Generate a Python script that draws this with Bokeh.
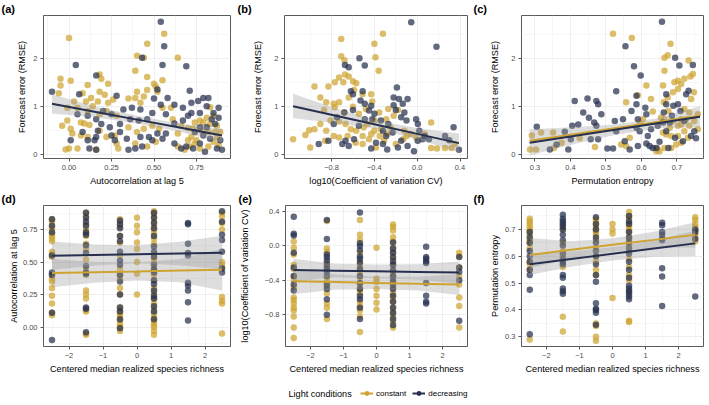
from bokeh.plotting import figure
from bokeh.layouts import column, row
from bokeh.models import Range1d, FixedTicker, Legend, LegendItem, Label
from bokeh.embed import file_html
from bokeh.resources import INLINE

GOLD = "#CFA331"
NAVY = "#27304F"
FONT = "Liberation Sans"

# ---------------- ticks ----------------
ticks_rmse = [0, 1, 2]
labels_rmse = ["0", "1", "2"]
minor_rmse = [0.5, 1.5, 2.5]
ticks_ac = [0, 0.25, 0.5, 0.75]
labels_ac = ["0.00", "0.25", "0.50", "0.75"]
minor_ac = [-0.125, 0.125, 0.375, 0.625, 0.875]
ticks_cv = [-0.8, -0.4, 0.0, 0.4]
labels_cv = ["\u22120.8", "\u22120.4", "0.0", "0.4"]
minor_cv = [-1.0, -0.6, -0.2, 0.2]
ticks_pe = [0.3, 0.4, 0.5, 0.6, 0.7]
labels_pe = ["0.3", "0.4", "0.5", "0.6", "0.7"]
minor_pe = [0.25, 0.35, 0.45, 0.55, 0.65, 0.75]
ticks_rich = [-2, -1, 0, 1, 2]
labels_rich = ["\u22122", "\u22121", "0", "1", "2"]
minor_rich = [-2.5, -1.5, -0.5, 0.5, 1.5, 2.5]

# ---------------- panel (a): autocorrelation vs RMSE ----------------
a_constant = [(0.00,2.42),(0.56,2.51),(0.46,2.30),(0.64,2.01),(0.40,2.05),(0.44,2.01),(0.39,1.74),(0.46,1.61),(0.55,1.54),(0.50,1.47),(0.51,1.41),(0.46,1.34),(0.52,1.30),(0.40,1.30),(-0.05,1.57),(0.01,1.53),(-0.05,1.43),(0.18,1.66),(0.19,1.57),(0.23,1.47),(0.11,1.44),(0.08,1.27),(-0.06,1.27),(0.18,1.30),(0.13,1.17),(0.10,1.10),(0.21,1.24),(0.26,1.14),(0.23,1.07),(0.17,1.10),(0.14,1.00),(0.03,1.10),(-0.01,0.97),(0.05,0.97),(0.11,0.90),(0.18,0.83),(0.22,0.90),(0.28,0.80),(-0.01,0.70),(0.07,0.66),(0.09,0.64),(0.12,0.61),(-0.04,0.59),(0.01,0.53),(0.02,0.43),(0.07,0.39),(0.11,0.36),(0.00,0.12),(-0.02,0.10),(0.05,0.12),(0.16,0.10),(0.18,0.49),(0.22,0.36),(0.27,0.39),(0.28,0.22),(0.29,0.12),(0.35,0.56),(0.35,1.16),(0.39,1.17),(0.44,1.20),(0.42,1.07),(0.55,0.97),(0.60,0.97),(0.49,0.59),(0.53,0.53),(0.44,0.53),(0.39,0.22),(0.46,0.16),(0.40,0.46),(0.51,0.26),(0.61,0.73),(0.66,0.59),(0.64,0.43),(0.70,0.29),(0.72,0.36),(0.75,0.29),(0.73,0.53),(0.78,0.49),(0.82,0.46),(0.86,0.46),(0.89,0.46),(0.87,0.36),(0.85,0.26),(0.88,0.19),(0.82,0.16),(0.77,0.12),(0.74,0.22),(0.71,0.16),(0.68,0.09),(0.64,0.16),(0.79,0.66),(0.83,0.63),(0.87,0.59),(0.85,0.80),(0.81,0.76),(0.77,0.70),(0.74,0.66),(0.70,0.54),(0.83,0.98)]
a_decreasing = [(-0.10,1.30),(0.04,1.86),(0.06,1.25),(0.16,1.64),(0.54,2.76),(0.56,2.25),(0.55,1.86),(0.43,2.01),(0.69,1.83),(0.71,1.32),(0.28,1.22),(0.52,1.35),(0.50,1.16),(0.54,1.03),(0.62,1.03),(0.67,0.97),(0.76,1.11),(0.79,1.17),(0.82,1.17),(0.88,0.97),(0.81,1.00),(0.85,0.86),(0.77,0.86),(0.72,0.86),(0.84,0.73),(0.88,0.76),(0.86,0.63),(0.81,0.56),(0.77,0.56),(0.74,0.46),(0.79,0.39),(0.83,0.32),(0.89,0.29),(0.90,0.09),(0.87,0.12),(0.80,0.05),(0.77,0.22),(0.73,0.12),(0.69,0.16),(0.66,0.12),(0.62,0.22),(0.57,0.43),(0.55,0.32),(0.52,0.43),(0.49,0.29),(0.47,0.36),(0.42,0.36),(0.43,0.16),(0.39,0.12),(0.35,0.09),(0.34,0.32),(0.30,0.46),(0.27,0.29),(0.32,0.93),(0.37,0.97),(0.42,0.93),(0.46,0.73),(0.41,0.70),(0.36,0.73),(0.30,0.63),(0.24,0.56),(0.19,0.63),(0.17,0.49),(0.16,0.36),(0.15,0.29),(0.11,0.29),(0.08,0.46),(0.01,0.29),(0.05,0.83),(0.11,0.80),(0.16,0.73),(0.20,0.90),(0.25,0.83),(0.12,0.12),(0.16,0.09),(0.25,0.39),(0.62,0.64),(0.67,0.70),(0.70,0.80),(0.72,1.07),(0.58,1.17),(0.49,0.86),(0.57,0.83)]
a_fit_x = [-0.10, 0.15, 0.40, 0.65, 0.90]
a_fit_y = [1.05, 0.885, 0.72, 0.555, 0.39]
a_fit_lo = [0.85, 0.77, 0.64, 0.47, 0.25]
a_fit_hi = [1.25, 1.00, 0.80, 0.64, 0.53]

# ---------------- panel (b): log10 CV vs RMSE ----------------
b_constant = [(-1.16,0.31),(-1.045,0.40),(-1.00,0.14),(-0.96,0.52),(-1.01,0.50),(-0.96,1.41),(-0.83,1.41),(-0.77,1.50),(-0.71,2.40),(-0.71,2.04),(-0.68,1.96),(-0.64,1.62),(-0.675,1.66),(-0.69,1.50),(-0.73,1.60),(-0.60,1.52),(-0.57,1.48),(-0.59,1.34),(-0.51,1.25),(-0.43,1.25),(-0.42,1.10),(-0.32,2.51),(-0.40,2.30),(-0.39,2.02),(-0.36,1.74),(-0.78,1.05),(-0.77,0.98),(-0.85,1.08),(-0.905,1.18),(-0.87,0.92),(-0.73,1.08),(-0.64,1.18),(-0.685,0.87),(-0.60,0.99),(-0.545,0.84),(-0.81,0.70),(-0.73,0.68),(-0.67,0.63),(-0.905,0.63),(-0.85,0.49),(-0.86,0.28),(-0.78,0.38),(-0.73,0.35),(-0.65,0.38),(-0.57,0.49),(-0.50,0.56),(-0.575,0.24),(-0.51,0.21),(-0.45,0.31),(-0.465,0.63),(-0.40,0.70),(-0.355,0.87),(-0.34,0.52),(-0.43,0.42),(-0.385,0.14),(-0.31,0.28),(-0.28,0.42),(-0.25,0.56),(-0.29,0.73),(-0.22,0.80),(-0.18,0.92),(-0.27,0.94),(-0.20,0.21),(-0.13,0.31),(-0.06,0.42),(-0.01,0.35),(0.13,0.66),(0.07,0.42),(0.13,0.13),(0.185,0.12),(0.26,0.13),(0.32,0.13),(0.35,0.21),(-0.12,0.49),(-0.10,0.38),(-0.35,0.38),(-0.40,0.49),(-0.51,0.38),(-0.62,0.52),(-0.48,0.94)]
b_decreasing = [(-0.056,2.75),(0.18,2.24),(-0.54,2.00),(-0.49,1.85),(-0.675,1.86),(-0.64,1.81),(-0.62,1.31),(-0.60,1.25),(-0.51,1.31),(-0.53,1.12),(-0.19,1.39),(-0.22,1.18),(-0.17,1.15),(-0.135,1.05),(-0.22,1.02),(-0.20,0.92),(-0.09,1.15),(-0.12,0.87),(-0.10,0.70),(-0.15,0.77),(-0.01,0.73),(0.006,0.63),(0.02,0.49),(0.05,0.31),(0.005,0.28),(-0.03,0.06),(-0.09,0.17),(-0.15,0.28),(-0.18,0.14),(-0.28,0.10),(-0.32,0.21),(-0.43,0.12),(-0.385,0.24),(-0.29,0.38),(-0.32,0.49),(-0.27,0.63),(-0.23,0.45),(-0.34,0.70),(-0.42,0.73),(-0.40,0.84),(-0.45,0.91),(-0.43,1.01),(-0.49,1.05),(-0.60,0.92),(-0.68,0.87),(-0.75,0.77),(-0.78,0.63),(-0.83,0.28),(-0.92,0.21),(-0.70,0.21),(-0.64,0.17),(-0.59,0.31),(-0.545,0.59),(-0.49,0.73),(-0.67,0.28),(0.11,0.31),(0.26,0.38),(0.34,0.56),(0.39,0.09),(0.30,0.29),(0.07,0.38)]
b_fit_x = [-1.16, -0.77, -0.38, 0.01, 0.39]
b_fit_y = [1.00, 0.806, 0.612, 0.418, 0.23]
b_fit_lo = [0.75, 0.65, 0.53, 0.30, 0.04]
b_fit_hi = [1.26, 0.96, 0.70, 0.54, 0.43]

# ---------------- panel (c): permutation entropy vs RMSE ----------------
c_constant = [(0.286,0.10),(0.303,0.10),(0.291,0.39),(0.317,0.45),(0.351,0.45),(0.354,0.13),(0.375,0.24),(0.426,0.33),(0.469,0.15),(0.520,2.51),(0.573,2.42),(0.557,1.08),(0.543,0.20),(0.557,0.17),(0.567,0.34),(0.590,1.23),(0.595,0.66),(0.604,0.73),(0.614,1.43),(0.627,1.15),(0.632,0.89),(0.645,0.12),(0.642,0.06),(0.661,1.43),(0.665,1.74),(0.665,2.01),(0.674,2.06),(0.682,2.30),(0.663,1.08),(0.655,0.76),(0.665,0.73),(0.676,0.90),(0.689,1.29),(0.693,1.50),(0.703,1.53),(0.712,1.46),(0.721,1.57),(0.738,1.62),(0.745,1.67),(0.733,1.95),(0.748,1.29),(0.740,1.15),(0.759,0.52),(0.749,0.69),(0.735,0.87),(0.721,0.94),(0.712,0.73),(0.703,0.59),(0.689,0.69),(0.680,0.55),(0.670,0.41),(0.661,0.45),(0.684,0.38),(0.703,0.38),(0.721,0.48),(0.735,0.59),(0.731,0.34),(0.712,0.24),(0.698,0.20),(0.684,0.13),(0.665,0.13),(0.651,0.06),(0.712,0.62),(0.726,0.73),(0.759,0.83),(0.703,1.36),(0.674,1.18)]
c_decreasing = [(0.305,0.57),(0.342,0.10),(0.361,0.20),(0.384,0.47),(0.394,0.10),(0.401,0.31),(0.412,1.11),(0.405,0.59),(0.422,0.62),(0.436,0.87),(0.448,1.16),(0.452,0.76),(0.457,0.31),(0.473,1.11),(0.478,1.04),(0.467,0.66),(0.473,0.59),(0.487,0.83),(0.478,0.31),(0.504,0.12),(0.520,0.12),(0.529,1.31),(0.525,0.69),(0.529,0.48),(0.555,2.25),(0.548,0.73),(0.553,0.27),(0.567,0.10),(0.579,1.83),(0.586,1.22),(0.586,1.04),(0.572,0.90),(0.598,1.64),(0.590,0.73),(0.586,0.55),(0.595,0.48),(0.590,0.17),(0.611,0.97),(0.614,0.83),(0.618,0.38),(0.614,0.22),(0.623,0.17),(0.632,0.13),(0.642,0.13),(0.651,0.26),(0.658,2.76),(0.663,0.87),(0.670,1.25),(0.670,1.04),(0.676,0.13),(0.686,0.80),(0.695,2.01),(0.707,1.85),(0.703,1.04),(0.710,0.90),(0.721,0.69),(0.726,1.25),(0.733,1.32),(0.745,1.86),(0.749,0.48),(0.754,0.33),(0.740,0.38),(0.717,0.27),(0.695,0.34),(0.670,0.48),(0.661,0.66),(0.680,0.66),(0.690,1.01),(0.646,0.59),(0.627,0.52)]
c_fit_x = [0.285, 0.405, 0.525, 0.645, 0.765]
c_fit_dec = [0.24, 0.375, 0.51, 0.645, 0.78]
c_fit_con = [0.28, 0.41, 0.54, 0.67, 0.80]
c_fit_lo = [-0.03, 0.20, 0.40, 0.54, 0.56]
c_fit_hi = [0.52, 0.56, 0.62, 0.75, 1.00]

# ---------------- bottom panels: values by centered richness ----------------
d_constant = {
    -2.5: [0.83,0.81,0.77,0.75,0.72,0.70,0.68,0.66,0.58,0.56,0.54,0.40,0.37,0.35,0.30,0.24,0.18,0.11,0.09],
    -1.5: [0.88,0.85,0.79,0.75,0.73,0.70,0.64,0.60,0.52,0.45,0.40,0.28,0.25,0.22,0.13,0.12,-0.05,-0.06],
    -0.5: [0.83,0.80,0.77,0.70,0.65,0.55,0.45,0.40,0.37,0.30,0.25,0.15,0.12,0.10,0.08,0.05,0.02,0.00,-0.03],
    0.0: [0.84,0.78,0.73,0.65,0.60,0.50,0.41,0.25],
    0.5: [0.89,0.87,0.84,0.81,0.78,0.75,0.72,0.68,0.64,0.56,0.53,0.50,0.45,0.40,0.36,0.30,0.26,0.22,0.18,0.14,0.10,0.07,0.04,0.02,0.00,-0.03,-0.06],
    2.5: [0.88,0.85,0.80,0.75,0.50,0.48,0.46,0.23,0.20,0.18,-0.05],
}
d_decreasing = {
    -2.5: [0.83,0.78,0.73,0.55,0.42,0.40,0.11,-0.10],
    -1.5: [0.88,0.84,0.81,0.78,0.73,0.71,0.63,0.57,0.47,0.42,0.41,0.15,0.14,-0.04],
    -0.5: [0.82,0.79,0.76,0.70,0.66,0.58,0.51,0.48,0.40,0.35,0.25,0.15,0.12,0.06,-0.01],
    0.5: [0.88,0.84,0.80,0.76,0.70,0.62,0.58,0.54,0.48,0.44,0.42,0.36,0.33,0.28,0.24,0.22,0.16,0.12,0.06],
    1.5: [0.80,0.79,0.64,0.57,0.55,0.34,0.32,0.28,0.19,0.05],
    2.5: [0.89,0.81,0.71,0.67,0.58,0.45,0.42],
}
d_fit_x = [-2.5, -1.25, 0.0, 1.25, 2.5]
d_fit_con = [0.415, 0.421, 0.427, 0.434, 0.44]
d_fit_con_lo = [0.305, 0.341, 0.357, 0.344, 0.28]
d_fit_con_hi = [0.525, 0.501, 0.497, 0.524, 0.60]
d_fit_dec = [0.548, 0.554, 0.560, 0.566, 0.572]
d_fit_dec_lo = [0.438, 0.474, 0.490, 0.476, 0.442]
d_fit_dec_hi = [0.658, 0.634, 0.630, 0.656, 0.702]

e_constant = {
    -2.5: [0.05,-0.02,-0.10,-0.22,-0.27,-0.35,-0.40,-0.48,-0.60,-0.63,-0.67,-0.72,-0.75,-0.82,-0.95,-1.07],
    -1.5: [0.29,-0.03,-0.07,-0.20,-0.25,-0.37,-0.42,-0.47,-0.55,-0.67,-0.72,-0.85],
    -0.5: [0.30,0.13,0.07,-0.08,-0.18,-0.25,-0.30,-0.37,-0.45,-0.50,-0.55,-0.65,-0.70,-0.75,-0.82,-1.00],
    0.0: [-0.02,-0.38,-0.42,-0.50,-0.58,-0.66,-0.74],
    0.5: [0.25,0.22,0.18,0.10,0.05,-0.02,-0.08,-0.15,-0.22,-0.30,-0.35,-0.42,-0.48,-0.55,-0.60,-0.65,-0.72,-0.77,-0.82,-0.88,-0.95],
    2.5: [-0.08,-0.12,-0.25,-0.35,-0.45,-0.60,-0.70,-0.95],
}
e_decreasing = {
    -2.5: [0.34,0.14,0.12,-0.08,-0.25,-0.35,-0.45,-0.52],
    -1.5: [0.30,0.08,-0.10,-0.13,-0.17,-0.22,-0.27,-0.30,-0.35,-0.45,-0.50,-0.62,-0.80],
    -0.5: [0.39,0.03,0.00,-0.05,-0.12,-0.15,-0.20,-0.27,-0.35,-0.43,-0.50,-0.58,-0.62,-0.72,-0.85],
    0.5: [0.04,-0.03,-0.08,-0.13,-0.18,-0.22,-0.28,-0.35,-0.40,-0.45,-0.50,-0.58,-0.65,-0.72,-0.78,-0.85,-0.92],
    1.5: [-0.01,-0.13,-0.15,-0.18,-0.20,-0.43,-0.58,-0.65,-0.67],
    2.5: [-0.13,-0.25,-0.30,-0.40,-0.87],
}
e_fit_x = [-2.5, -1.25, 0.0, 1.25, 2.5]
e_fit_con = [-0.41, -0.42, -0.43, -0.44, -0.45]
e_fit_con_lo = [-0.56, -0.51, -0.50, -0.52, -0.57]
e_fit_con_hi = [-0.26, -0.33, -0.36, -0.36, -0.33]
e_fit_dec = [-0.28, -0.2875, -0.295, -0.3025, -0.31]
e_fit_dec_lo = [-0.41, -0.3675, -0.375, -0.3925, -0.44]
e_fit_dec_hi = [-0.15, -0.2075, -0.215, -0.2125, -0.18]

f_constant = {
    -2.5: [0.74,0.73,0.72,0.71,0.70,0.69,0.68,0.66,0.65,0.63,0.58,0.57,0.55,0.29],
    -1.5: [0.72,0.70,0.65,0.62,0.60,0.56,0.375,0.32],
    -0.5: [0.74,0.73,0.72,0.71,0.70,0.69,0.68,0.66,0.63,0.60,0.58,0.55,0.53,0.35,0.34,0.30,0.285],
    0.0: [0.72,0.70,0.685,0.445],
    0.5: [0.765,0.75,0.74,0.72,0.71,0.70,0.69,0.67,0.66,0.64,0.62,0.59,0.56,0.53,0.51,0.47,0.36,0.355],
    2.5: [0.745,0.735,0.72,0.71,0.70,0.69,0.68,0.665,0.655],
}
f_decreasing = {
    -2.5: [0.69,0.67,0.65,0.62,0.60,0.58,0.55,0.53,0.475,0.31],
    -1.5: [0.755,0.74,0.73,0.72,0.71,0.70,0.68,0.66,0.64,0.61,0.59,0.58,0.57,0.53,0.52,0.48,0.47,0.46],
    -0.5: [0.745,0.72,0.70,0.67,0.65,0.62,0.60,0.57,0.53,0.505,0.425,0.405,0.40,0.39,0.345],
    0.5: [0.75,0.73,0.72,0.69,0.67,0.65,0.63,0.61,0.58,0.55,0.52,0.49,0.48,0.47,0.46,0.45,0.44],
    1.5: [0.725,0.715,0.69,0.68,0.665,0.66,0.555,0.525,0.415],
    2.5: [0.70,0.69,0.665,0.45],
}
f_fit_x = [-2.5, -1.25, 0.0, 1.25, 2.5]
f_fit_con = [0.605, 0.624, 0.6425, 0.661, 0.68]
f_fit_con_lo = [0.555, 0.592, 0.6175, 0.631, 0.633]
f_fit_con_hi = [0.668, 0.656, 0.6675, 0.691, 0.727]
f_fit_dec = [0.57, 0.5895, 0.609, 0.6285, 0.648]
f_fit_dec_lo = [0.53, 0.561, 0.584, 0.598, 0.600]
f_fit_dec_hi = [0.61, 0.618, 0.634, 0.659, 0.696]

legend_title = "Light conditions"
group_labels = ["constant", "decreasing"]


def unzip(pairs):
    return [p[0] for p in pairs], [p[1] for p in pairs]


def expand(groups):
    xs, ys = [], []
    for k, vals in groups.items():
        xs += [k] * len(vals)
        ys += list(vals)
    return xs, ys


def panel(tag, xr, yr, xt, xl, xm, yt, yl, ym, xlab, ylab, w, h, bl, br, bt, bb, ystand):
    p = figure(width=w, height=h, x_range=Range1d(*xr), y_range=Range1d(*yr),
               output_backend="svg", toolbar_location=None,
               min_border_left=bl, min_border_right=br, min_border_top=bt, min_border_bottom=bb,
               title=tag, background_fill_color="white", border_fill_color="white")
    p.title.align = "left"
    p.title.offset = -(bl - 1)
    p.title.text_font = FONT
    p.title.text_font_size = "11px"
    p.title.text_font_style = "bold"
    p.title.text_color = "black"
    p.title.standoff = 1
    p.outline_line_color = "#5a5a5a"
    p.outline_line_width = 1
    xt_ = FixedTicker(ticks=xt, minor_ticks=xm)
    yt_ = FixedTicker(ticks=yt, minor_ticks=ym)
    p.xaxis[0].ticker = xt_
    p.yaxis[0].ticker = yt_
    p.xgrid[0].ticker = xt_
    p.ygrid[0].ticker = yt_
    p.xaxis[0].major_label_overrides = {v: s for v, s in zip(xt, xl)}
    p.yaxis[0].major_label_overrides = {v: s for v, s in zip(yt, yl)}
    p.xaxis[0].axis_label = xlab
    p.yaxis[0].axis_label = ylab
    for ax in (p.xaxis[0], p.yaxis[0]):
        ax.axis_line_color = None
        ax.major_tick_out = 3
        ax.major_tick_in = 0
        ax.major_tick_line_color = "#555555"
        ax.minor_tick_line_color = None
        ax.major_label_text_font = FONT
        ax.major_label_text_font_size = "7.5px"
        ax.major_label_text_color = "#4D4D4D"
        ax.major_label_standoff = 2
        ax.axis_label_text_font = FONT
        ax.axis_label_text_font_size = "9.1px"
        ax.axis_label_text_font_style = "normal"
        ax.axis_label_text_color = "black"
    p.xaxis[0].axis_label_standoff = 3
    p.yaxis[0].axis_label_standoff = ystand
    p.grid.grid_line_color = "#EBEBEB"
    p.grid.grid_line_width = 0.8
    p.grid.minor_grid_line_color = "#F2F2F2"
    p.grid.minor_grid_line_width = 0.6
    return p


def points(p, xs, ys, color):
    p.scatter(xs, ys, size=6.5, fill_color=color, fill_alpha=0.72, line_color=None)


def band(p, xs, lo, hi):
    p.varea(x=xs, y1=lo, y2=hi, fill_color="#999999", fill_alpha=0.33)


W = [236, 236, 237]
BL = [43, 48, 49]
BR = [6, 5, 6]
HT, HB = 190, 186

# ---- top row ----
pa = panel("(a)", (-0.15, 0.95), (-0.09, 2.89), ticks_ac, labels_ac, minor_ac,
           ticks_rmse, labels_rmse, minor_rmse, "Autocorrelation at lag 5", "Forecast error (RMSE)",
           W[0], HT, BL[0], BR[0], 13, 32, 3)
points(pa, *unzip(a_constant), GOLD)
points(pa, *unzip(a_decreasing), NAVY)
band(pa, a_fit_x, a_fit_lo, a_fit_hi)
pa.line(a_fit_x, a_fit_y, line_color=NAVY, line_width=2)

pb = panel("(b)", (-1.24, 0.47), (-0.09, 2.89), ticks_cv, labels_cv, minor_cv,
           ticks_rmse, labels_rmse, minor_rmse, "log10(Coefficient of variation CV)", "Forecast error (RMSE)",
           W[1], HT, BL[1], BR[1], 13, 32, 8)
points(pb, *unzip(b_constant), GOLD)
points(pb, *unzip(b_decreasing), NAVY)
band(pb, b_fit_x, b_fit_lo, b_fit_hi)
pb.line(b_fit_x, b_fit_y, line_color=NAVY, line_width=2)

pc = panel("(c)", (0.262, 0.775), (-0.09, 2.89), ticks_pe, labels_pe, minor_pe,
           ticks_rmse, labels_rmse, minor_rmse, "Permutation entropy", "Forecast error (RMSE)",
           W[2], HT, BL[2], BR[2], 13, 32, 8)
points(pc, *unzip(c_constant), GOLD)
points(pc, *unzip(c_decreasing), NAVY)
band(pc, c_fit_x, c_fit_lo, c_fit_hi)
pc.line(c_fit_x, c_fit_con, line_color=GOLD, line_width=2)
pc.line(c_fit_x, c_fit_dec, line_color=NAVY, line_width=2)

# ---- bottom row ----
rich_lab = "Centered median realized species richness"
pd_ = panel("(d)", (-2.75, 2.75), (-0.15, 0.935), ticks_rich, labels_rich, minor_rich,
            ticks_ac, labels_ac, minor_ac, rich_lab, "Autocorrelation at lag 5",
            W[0], HB, BL[0], BR[0], 15, 27, 1)
points(pd_, *expand(d_constant), GOLD)
points(pd_, *expand(d_decreasing), NAVY)
band(pd_, d_fit_x, d_fit_con_lo, d_fit_con_hi)
band(pd_, d_fit_x, d_fit_dec_lo, d_fit_dec_hi)
pd_.line(d_fit_x, d_fit_con, line_color=GOLD, line_width=2)
pd_.line(d_fit_x, d_fit_dec, line_color=NAVY, line_width=2)

pe = panel("(e)", (-2.75, 2.75), (-1.17, 0.47), ticks_rich, labels_rich, minor_rich,
           ticks_cv, labels_cv, minor_cv, rich_lab, "log10(Coefficient of variation CV)",
           W[1], HB, BL[1], BR[1], 15, 27, 12)
points(pe, *expand(e_constant), GOLD)
points(pe, *expand(e_decreasing), NAVY)
band(pe, e_fit_x, e_fit_con_lo, e_fit_con_hi)
band(pe, e_fit_x, e_fit_dec_lo, e_fit_dec_hi)
pe.line(e_fit_x, e_fit_con, line_color=GOLD, line_width=2)
pe.line(e_fit_x, e_fit_dec, line_color=NAVY, line_width=2)

pf = panel("(f)", (-2.75, 2.75), (0.264, 0.789), ticks_rich, labels_rich, minor_rich,
           ticks_pe, labels_pe, minor_pe, rich_lab, "Permutation entropy",
           W[2], HB, BL[2], BR[2], 15, 27, 2)
points(pf, *expand(f_constant), GOLD)
points(pf, *expand(f_decreasing), NAVY)
band(pf, f_fit_x, f_fit_con_lo, f_fit_con_hi)
band(pf, f_fit_x, f_fit_dec_lo, f_fit_dec_hi)
pf.line(f_fit_x, f_fit_con, line_color=GOLD, line_width=2)
pf.line(f_fit_x, f_fit_dec, line_color=NAVY, line_width=2)

# ---- legend strip ----
pl = figure(width=709, height=29, x_range=Range1d(0, 709), y_range=Range1d(0, 29),
            x_axis_type=None, y_axis_type=None, output_backend="svg", toolbar_location=None,
            min_border=0, outline_line_color=None)
pl.grid.visible = False
items = []
for lab, col in zip(group_labels, [GOLD, NAVY]):
    # off-canvas dummy data so that the legend keys are drawn
    lr = pl.line(x=[-50, -40], y=[-50, -50], line_color=col, line_width=2)
    sr = pl.scatter(x=[-45], y=[-50], size=5.5, fill_color=col, line_color=None)
    items.append(LegendItem(label=lab, renderers=[lr, sr]))
leg = Legend(items=items, orientation="horizontal", location=(360, 6),
             glyph_width=13, glyph_height=12, label_height=12, label_width=10,
             label_standoff=3, spacing=6, padding=0, margin=0,
             border_line_color=None, background_fill_alpha=0,
             label_text_font=FONT, label_text_font_size="8px", label_text_color="black")
pl.add_layout(leg)
pl.add_layout(Label(x=288, y=12, text=legend_title, text_font=FONT, text_font_size="9.1px",
                    text_baseline="middle", text_color="black"))

layout = column(row(pa, pb, pc), row(pd_, pe, pf), pl)
open("out.html", "w").write(file_html(layout, INLINE))
